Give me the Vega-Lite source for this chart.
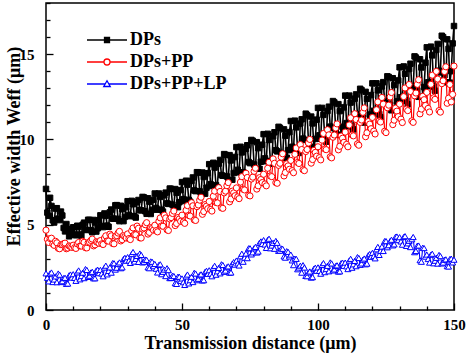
{
"$schema": "https://vega.github.io/schema/vega-lite/v6.json",
"width": 408, "height": 307,
"autosize": "none",
"padding": {"left": 46, "top": 3, "right": 15, "bottom": 43},
"background": "white",
"config": {"view": {"stroke": "black", "strokeWidth": 1.5}, "font": "Liberation Serif"},
"data": {"values": [
{"x":0,"DPs":7.10,"DPs+PP":4.68,"DPs+PP+LP":2.15},
{"x":0.5,"DPs":5.71,"DPs+PP":4.15,"DPs+PP+LP":1.89},
{"x":1,"DPs":5.52,"DPs+PP":3.96,"DPs+PP+LP":1.68},
{"x":1.5,"DPs":6.58,"DPs+PP":4.19,"DPs+PP+LP":2.14},
{"x":2,"DPs":6.10,"DPs+PP":4.21,"DPs+PP+LP":2.20},
{"x":2.5,"DPs":5.26,"DPs+PP":3.87,"DPs+PP+LP":1.64},
{"x":3,"DPs":5.13,"DPs+PP":3.79,"DPs+PP+LP":1.79},
{"x":3.5,"DPs":5.95,"DPs+PP":4.03,"DPs+PP+LP":1.97},
{"x":4,"DPs":5.97,"DPs+PP":3.94,"DPs+PP+LP":1.63},
{"x":4.5,"DPs":5.36,"DPs+PP":3.62,"DPs+PP+LP":2.14},
{"x":5,"DPs":5.27,"DPs+PP":3.59,"DPs+PP+LP":2.07},
{"x":5.5,"DPs":5.77,"DPs+PP":3.83,"DPs+PP+LP":1.64},
{"x":6,"DPs":5.54,"DPs+PP":3.83,"DPs+PP+LP":1.69},
{"x":6.5,"DPs":4.81,"DPs+PP":3.89,"DPs+PP+LP":1.87},
{"x":7,"DPs":4.61,"DPs+PP":3.92,"DPs+PP+LP":1.89},
{"x":7.5,"DPs":5.04,"DPs+PP":3.59,"DPs+PP+LP":1.53},
{"x":8,"DPs":4.74,"DPs+PP":3.63,"DPs+PP+LP":1.55},
{"x":8.5,"DPs":4.32,"DPs+PP":3.76,"DPs+PP+LP":2.03},
{"x":9,"DPs":4.42,"DPs+PP":3.72,"DPs+PP+LP":2.08},
{"x":9.5,"DPs":4.69,"DPs+PP":3.67,"DPs+PP+LP":1.90},
{"x":10,"DPs":4.85,"DPs+PP":3.80,"DPs+PP+LP":2.10},
{"x":10.5,"DPs":4.43,"DPs+PP":3.65,"DPs+PP+LP":1.88},
{"x":11,"DPs":4.38,"DPs+PP":3.61,"DPs+PP+LP":1.71},
{"x":11.5,"DPs":4.94,"DPs+PP":3.88,"DPs+PP+LP":2.21},
{"x":12,"DPs":4.86,"DPs+PP":3.96,"DPs+PP+LP":2.32},
{"x":12.5,"DPs":4.43,"DPs+PP":3.75,"DPs+PP+LP":1.80},
{"x":13,"DPs":4.36,"DPs+PP":3.75,"DPs+PP+LP":1.99},
{"x":13.5,"DPs":5.00,"DPs+PP":4.03,"DPs+PP+LP":2.19},
{"x":14,"DPs":5.12,"DPs+PP":3.97,"DPs+PP+LP":1.87},
{"x":14.5,"DPs":4.71,"DPs+PP":3.65,"DPs+PP+LP":2.40},
{"x":15,"DPs":4.69,"DPs+PP":3.64,"DPs+PP+LP":2.35},
{"x":15.5,"DPs":5.29,"DPs+PP":3.95,"DPs+PP+LP":1.94},
{"x":16,"DPs":5.28,"DPs+PP":3.98,"DPs+PP+LP":2.01},
{"x":16.5,"DPs":4.68,"DPs+PP":4.08,"DPs+PP+LP":2.20},
{"x":17,"DPs":4.56,"DPs+PP":4.16,"DPs+PP+LP":2.24},
{"x":17.5,"DPs":5.28,"DPs+PP":3.76,"DPs+PP+LP":1.86},
{"x":18,"DPs":5.13,"DPs+PP":3.82,"DPs+PP+LP":1.86},
{"x":18.5,"DPs":4.60,"DPs+PP":4.00,"DPs+PP+LP":2.32},
{"x":19,"DPs":4.79,"DPs+PP":3.96,"DPs+PP+LP":2.36},
{"x":19.5,"DPs":5.26,"DPs+PP":3.91,"DPs+PP+LP":2.16},
{"x":20,"DPs":5.55,"DPs+PP":4.07,"DPs+PP+LP":2.35},
{"x":20.5,"DPs":4.92,"DPs+PP":3.88,"DPs+PP+LP":2.14},
{"x":21,"DPs":4.86,"DPs+PP":3.84,"DPs+PP+LP":1.98},
{"x":21.5,"DPs":5.66,"DPs+PP":4.22,"DPs+PP+LP":2.49},
{"x":22,"DPs":5.52,"DPs+PP":4.35,"DPs+PP+LP":2.60},
{"x":22.5,"DPs":4.95,"DPs+PP":4.05,"DPs+PP+LP":2.09},
{"x":23,"DPs":4.88,"DPs+PP":4.04,"DPs+PP+LP":2.29},
{"x":23.5,"DPs":5.73,"DPs+PP":4.45,"DPs+PP+LP":2.50},
{"x":24,"DPs":5.89,"DPs+PP":4.35,"DPs+PP+LP":2.19},
{"x":24.5,"DPs":5.36,"DPs+PP":3.90,"DPs+PP+LP":2.75},
{"x":25,"DPs":5.35,"DPs+PP":3.88,"DPs+PP+LP":2.74},
{"x":25.5,"DPs":6.14,"DPs+PP":4.32,"DPs+PP+LP":2.37},
{"x":26,"DPs":6.15,"DPs+PP":4.36,"DPs+PP+LP":2.48},
{"x":26.5,"DPs":5.34,"DPs+PP":4.51,"DPs+PP+LP":2.71},
{"x":27,"DPs":5.21,"DPs+PP":4.61,"DPs+PP+LP":2.79},
{"x":27.5,"DPs":6.11,"DPs+PP":4.05,"DPs+PP+LP":2.45},
{"x":28,"DPs":5.91,"DPs+PP":4.12,"DPs+PP+LP":2.50},
{"x":28.5,"DPs":5.21,"DPs+PP":4.36,"DPs+PP+LP":2.99},
{"x":29,"DPs":5.46,"DPs+PP":4.30,"DPs+PP+LP":3.06},
{"x":29.5,"DPs":6.03,"DPs+PP":4.22,"DPs+PP+LP":2.89},
{"x":30,"DPs":6.38,"DPs+PP":4.46,"DPs+PP+LP":3.10},
{"x":30.5,"DPs":5.57,"DPs+PP":4.19,"DPs+PP+LP":2.90},
{"x":31,"DPs":5.50,"DPs+PP":4.13,"DPs+PP+LP":2.76},
{"x":31.5,"DPs":6.40,"DPs+PP":4.64,"DPs+PP+LP":3.28},
{"x":32,"DPs":6.20,"DPs+PP":4.81,"DPs+PP+LP":3.40},
{"x":32.5,"DPs":5.50,"DPs+PP":4.43,"DPs+PP+LP":2.84},
{"x":33,"DPs":5.42,"DPs+PP":4.41,"DPs+PP+LP":3.00},
{"x":33.5,"DPs":6.32,"DPs+PP":4.92,"DPs+PP+LP":3.17},
{"x":34,"DPs":6.45,"DPs+PP":4.79,"DPs+PP+LP":2.82},
{"x":34.5,"DPs":5.86,"DPs+PP":4.23,"DPs+PP+LP":3.31},
{"x":35,"DPs":5.84,"DPs+PP":4.22,"DPs+PP+LP":3.23},
{"x":35.5,"DPs":6.63,"DPs+PP":4.75,"DPs+PP+LP":2.79},
{"x":36,"DPs":6.60,"DPs+PP":4.81,"DPs+PP+LP":2.83},
{"x":36.5,"DPs":5.79,"DPs+PP":5.00,"DPs+PP+LP":2.96},
{"x":37,"DPs":5.64,"DPs+PP":5.12,"DPs+PP+LP":2.94},
{"x":37.5,"DPs":6.55,"DPs+PP":4.45,"DPs+PP+LP":2.50},
{"x":38,"DPs":6.35,"DPs+PP":4.55,"DPs+PP+LP":2.45},
{"x":38.5,"DPs":5.63,"DPs+PP":4.83,"DPs+PP+LP":2.85},
{"x":39,"DPs":5.87,"DPs+PP":4.78,"DPs+PP+LP":2.83},
{"x":39.5,"DPs":6.46,"DPs+PP":4.68,"DPs+PP+LP":2.57},
{"x":40,"DPs":6.83,"DPs+PP":4.97,"DPs+PP+LP":2.70},
{"x":40.5,"DPs":5.98,"DPs+PP":4.65,"DPs+PP+LP":2.42},
{"x":41,"DPs":5.88,"DPs+PP":4.58,"DPs+PP+LP":2.20},
{"x":41.5,"DPs":6.83,"DPs+PP":5.20,"DPs+PP+LP":2.64},
{"x":42,"DPs":6.63,"DPs+PP":5.40,"DPs+PP+LP":2.68},
{"x":42.5,"DPs":5.88,"DPs+PP":4.93,"DPs+PP+LP":2.10},
{"x":43,"DPs":5.77,"DPs+PP":4.91,"DPs+PP+LP":2.24},
{"x":43.5,"DPs":6.73,"DPs+PP":5.56,"DPs+PP+LP":2.37},
{"x":44,"DPs":6.88,"DPs+PP":5.40,"DPs+PP+LP":1.99},
{"x":44.5,"DPs":6.25,"DPs+PP":4.70,"DPs+PP+LP":2.45},
{"x":45,"DPs":6.22,"DPs+PP":4.66,"DPs+PP+LP":2.34},
{"x":45.5,"DPs":7.12,"DPs+PP":5.34,"DPs+PP+LP":1.87},
{"x":46,"DPs":7.10,"DPs+PP":5.42,"DPs+PP+LP":1.88},
{"x":46.5,"DPs":6.18,"DPs+PP":5.66,"DPs+PP+LP":2.01},
{"x":47,"DPs":6.02,"DPs+PP":5.80,"DPs+PP+LP":1.99},
{"x":47.5,"DPs":7.09,"DPs+PP":4.95,"DPs+PP+LP":1.57},
{"x":48,"DPs":6.87,"DPs+PP":5.07,"DPs+PP+LP":1.53},
{"x":48.5,"DPs":6.03,"DPs+PP":5.42,"DPs+PP+LP":1.95},
{"x":49,"DPs":6.32,"DPs+PP":5.34,"DPs+PP+LP":1.95},
{"x":49.5,"DPs":7.03,"DPs+PP":5.20,"DPs+PP+LP":1.71},
{"x":50,"DPs":7.50,"DPs+PP":5.56,"DPs+PP+LP":1.85},
{"x":50.5,"DPs":6.50,"DPs+PP":5.16,"DPs+PP+LP":1.63},
{"x":51,"DPs":6.39,"DPs+PP":5.08,"DPs+PP+LP":1.47},
{"x":51.5,"DPs":7.58,"DPs+PP":5.85,"DPs+PP+LP":1.97},
{"x":52,"DPs":7.35,"DPs+PP":6.12,"DPs+PP+LP":2.08},
{"x":52.5,"DPs":6.46,"DPs+PP":5.54,"DPs+PP+LP":1.56},
{"x":53,"DPs":6.35,"DPs+PP":5.51,"DPs+PP+LP":1.75},
{"x":53.5,"DPs":7.57,"DPs+PP":6.29,"DPs+PP+LP":1.95},
{"x":54,"DPs":7.77,"DPs+PP":6.11,"DPs+PP+LP":1.64},
{"x":54.5,"DPs":7.01,"DPs+PP":5.28,"DPs+PP+LP":2.18},
{"x":55,"DPs":6.97,"DPs+PP":5.25,"DPs+PP+LP":2.14},
{"x":55.5,"DPs":8.08,"DPs+PP":6.06,"DPs+PP+LP":1.75},
{"x":56,"DPs":8.06,"DPs+PP":6.16,"DPs+PP+LP":1.83},
{"x":56.5,"DPs":6.96,"DPs+PP":6.44,"DPs+PP+LP":2.04},
{"x":57,"DPs":6.76,"DPs+PP":6.61,"DPs+PP+LP":2.09},
{"x":57.5,"DPs":8.06,"DPs+PP":5.61,"DPs+PP+LP":1.73},
{"x":58,"DPs":7.80,"DPs+PP":5.77,"DPs+PP+LP":1.75},
{"x":58.5,"DPs":6.82,"DPs+PP":6.18,"DPs+PP+LP":2.24},
{"x":59,"DPs":7.17,"DPs+PP":6.09,"DPs+PP+LP":2.30},
{"x":59.5,"DPs":8.02,"DPs+PP":5.94,"DPs+PP+LP":2.12},
{"x":60,"DPs":8.55,"DPs+PP":6.36,"DPs+PP+LP":2.33},
{"x":60.5,"DPs":7.38,"DPs+PP":5.89,"DPs+PP+LP":2.13},
{"x":61,"DPs":7.27,"DPs+PP":5.80,"DPs+PP+LP":1.98},
{"x":61.5,"DPs":8.63,"DPs+PP":6.67,"DPs+PP+LP":2.48},
{"x":62,"DPs":8.35,"DPs+PP":6.97,"DPs+PP+LP":2.59},
{"x":62.5,"DPs":7.32,"DPs+PP":6.30,"DPs+PP+LP":2.07},
{"x":63,"DPs":7.19,"DPs+PP":6.28,"DPs+PP+LP":2.27},
{"x":63.5,"DPs":8.58,"DPs+PP":7.17,"DPs+PP+LP":2.47},
{"x":64,"DPs":8.80,"DPs+PP":6.95,"DPs+PP+LP":2.15},
{"x":64.5,"DPs":7.91,"DPs+PP":5.99,"DPs+PP+LP":2.68},
{"x":65,"DPs":7.87,"DPs+PP":5.96,"DPs+PP+LP":2.64},
{"x":65.5,"DPs":9.14,"DPs+PP":6.87,"DPs+PP+LP":2.24},
{"x":66,"DPs":9.10,"DPs+PP":6.97,"DPs+PP+LP":2.31},
{"x":66.5,"DPs":7.83,"DPs+PP":7.29,"DPs+PP+LP":2.51},
{"x":67,"DPs":7.61,"DPs+PP":7.47,"DPs+PP+LP":2.56},
{"x":67.5,"DPs":9.08,"DPs+PP":6.34,"DPs+PP+LP":2.19},
{"x":68,"DPs":8.77,"DPs+PP":6.51,"DPs+PP+LP":2.20},
{"x":68.5,"DPs":7.64,"DPs+PP":6.97,"DPs+PP+LP":2.72},
{"x":69,"DPs":8.03,"DPs+PP":6.87,"DPs+PP+LP":2.81},
{"x":69.5,"DPs":8.97,"DPs+PP":6.70,"DPs+PP+LP":2.66},
{"x":70,"DPs":9.55,"DPs+PP":7.16,"DPs+PP+LP":2.90},
{"x":70.5,"DPs":8.22,"DPs+PP":6.63,"DPs+PP+LP":2.73},
{"x":71,"DPs":8.07,"DPs+PP":6.53,"DPs+PP+LP":2.61},
{"x":71.5,"DPs":9.57,"DPs+PP":7.50,"DPs+PP+LP":3.15},
{"x":72,"DPs":9.24,"DPs+PP":7.82,"DPs+PP+LP":3.30},
{"x":72.5,"DPs":8.08,"DPs+PP":7.08,"DPs+PP+LP":2.83},
{"x":73,"DPs":7.92,"DPs+PP":7.04,"DPs+PP+LP":3.07},
{"x":73.5,"DPs":9.45,"DPs+PP":8.02,"DPs+PP+LP":3.31},
{"x":74,"DPs":9.66,"DPs+PP":7.77,"DPs+PP+LP":3.04},
{"x":74.5,"DPs":8.68,"DPs+PP":6.73,"DPs+PP+LP":3.62},
{"x":75,"DPs":8.61,"DPs+PP":6.69,"DPs+PP+LP":3.62},
{"x":75.5,"DPs":9.97,"DPs+PP":7.68,"DPs+PP+LP":3.26},
{"x":76,"DPs":9.92,"DPs+PP":7.79,"DPs+PP+LP":3.38},
{"x":76.5,"DPs":8.53,"DPs+PP":8.13,"DPs+PP+LP":3.62},
{"x":77,"DPs":8.28,"DPs+PP":8.31,"DPs+PP+LP":3.70},
{"x":77.5,"DPs":9.84,"DPs+PP":7.09,"DPs+PP+LP":3.37},
{"x":78,"DPs":9.49,"DPs+PP":7.28,"DPs+PP+LP":3.43},
{"x":78.5,"DPs":8.28,"DPs+PP":7.76,"DPs+PP+LP":3.94},
{"x":79,"DPs":8.69,"DPs+PP":7.65,"DPs+PP+LP":4.02},
{"x":79.5,"DPs":9.69,"DPs+PP":7.47,"DPs+PP+LP":3.87},
{"x":80,"DPs":10.31,"DPs+PP":7.96,"DPs+PP+LP":4.10},
{"x":80.5,"DPs":8.89,"DPs+PP":7.39,"DPs+PP+LP":3.84},
{"x":81,"DPs":8.72,"DPs+PP":7.28,"DPs+PP+LP":3.64},
{"x":81.5,"DPs":10.33,"DPs+PP":8.31,"DPs+PP+LP":4.11},
{"x":82,"DPs":9.97,"DPs+PP":8.66,"DPs+PP+LP":4.18},
{"x":82.5,"DPs":8.74,"DPs+PP":7.86,"DPs+PP+LP":3.62},
{"x":83,"DPs":8.57,"DPs+PP":7.82,"DPs+PP+LP":3.78},
{"x":83.5,"DPs":10.19,"DPs+PP":8.86,"DPs+PP+LP":3.94},
{"x":84,"DPs":10.42,"DPs+PP":8.60,"DPs+PP+LP":3.59},
{"x":84.5,"DPs":9.37,"DPs+PP":7.47,"DPs+PP+LP":4.05},
{"x":85,"DPs":9.30,"DPs+PP":7.43,"DPs+PP+LP":3.94},
{"x":85.5,"DPs":10.74,"DPs+PP":8.48,"DPs+PP+LP":3.47},
{"x":86,"DPs":10.68,"DPs+PP":8.60,"DPs+PP+LP":3.48},
{"x":86.5,"DPs":9.20,"DPs+PP":8.96,"DPs+PP+LP":3.61},
{"x":87,"DPs":8.93,"DPs+PP":9.16,"DPs+PP+LP":3.59},
{"x":87.5,"DPs":10.59,"DPs+PP":7.86,"DPs+PP+LP":3.14},
{"x":88,"DPs":10.22,"DPs+PP":8.06,"DPs+PP+LP":3.07},
{"x":88.5,"DPs":8.93,"DPs+PP":8.57,"DPs+PP+LP":3.45},
{"x":89,"DPs":9.37,"DPs+PP":8.45,"DPs+PP+LP":3.41},
{"x":89.5,"DPs":10.43,"DPs+PP":8.25,"DPs+PP+LP":3.14},
{"x":90,"DPs":11.08,"DPs+PP":8.77,"DPs+PP+LP":3.25},
{"x":90.5,"DPs":9.57,"DPs+PP":8.17,"DPs+PP+LP":2.91},
{"x":91,"DPs":9.39,"DPs+PP":8.05,"DPs+PP+LP":2.63},
{"x":91.5,"DPs":11.10,"DPs+PP":9.13,"DPs+PP+LP":3.01},
{"x":92,"DPs":10.71,"DPs+PP":9.50,"DPs+PP+LP":3.00},
{"x":92.5,"DPs":9.40,"DPs+PP":8.65,"DPs+PP+LP":2.39},
{"x":93,"DPs":9.21,"DPs+PP":8.59,"DPs+PP+LP":2.49},
{"x":93.5,"DPs":10.93,"DPs+PP":9.70,"DPs+PP+LP":2.60},
{"x":94,"DPs":11.18,"DPs+PP":9.41,"DPs+PP+LP":2.19},
{"x":94.5,"DPs":10.05,"DPs+PP":8.22,"DPs+PP+LP":2.63},
{"x":95,"DPs":9.97,"DPs+PP":8.17,"DPs+PP+LP":2.49},
{"x":95.5,"DPs":11.51,"DPs+PP":9.29,"DPs+PP+LP":2.00},
{"x":96,"DPs":11.43,"DPs+PP":9.41,"DPs+PP+LP":1.98},
{"x":96.5,"DPs":9.87,"DPs+PP":9.79,"DPs+PP+LP":2.20},
{"x":97,"DPs":9.57,"DPs+PP":10.00,"DPs+PP+LP":2.26},
{"x":97.5,"DPs":11.34,"DPs+PP":8.61,"DPs+PP+LP":1.90},
{"x":98,"DPs":10.94,"DPs+PP":8.82,"DPs+PP+LP":1.93},
{"x":98.5,"DPs":9.56,"DPs+PP":9.36,"DPs+PP+LP":2.42},
{"x":99,"DPs":10.03,"DPs+PP":9.24,"DPs+PP+LP":2.48},
{"x":99.5,"DPs":11.16,"DPs+PP":9.02,"DPs+PP+LP":2.30},
{"x":100,"DPs":11.85,"DPs+PP":9.57,"DPs+PP+LP":2.50},
{"x":100.5,"DPs":10.24,"DPs+PP":8.93,"DPs+PP+LP":2.29},
{"x":101,"DPs":10.05,"DPs+PP":8.80,"DPs+PP+LP":2.13},
{"x":101.5,"DPs":11.85,"DPs+PP":9.96,"DPs+PP+LP":2.64},
{"x":102,"DPs":11.44,"DPs+PP":10.35,"DPs+PP+LP":2.75},
{"x":102.5,"DPs":10.05,"DPs+PP":9.44,"DPs+PP+LP":2.22},
{"x":103,"DPs":9.87,"DPs+PP":9.40,"DPs+PP+LP":2.40},
{"x":103.5,"DPs":11.67,"DPs+PP":10.57,"DPs+PP+LP":2.59},
{"x":104,"DPs":11.92,"DPs+PP":10.27,"DPs+PP+LP":2.27},
{"x":104.5,"DPs":10.75,"DPs+PP":8.98,"DPs+PP+LP":2.79},
{"x":105,"DPs":10.67,"DPs+PP":8.92,"DPs+PP+LP":2.73},
{"x":105.5,"DPs":12.25,"DPs+PP":10.13,"DPs+PP+LP":2.32},
{"x":106,"DPs":12.17,"DPs+PP":10.26,"DPs+PP+LP":2.38},
{"x":106.5,"DPs":10.56,"DPs+PP":10.67,"DPs+PP+LP":2.58},
{"x":107,"DPs":10.27,"DPs+PP":10.91,"DPs+PP+LP":2.62},
{"x":107.5,"DPs":12.07,"DPs+PP":9.39,"DPs+PP+LP":2.25},
{"x":108,"DPs":11.66,"DPs+PP":9.60,"DPs+PP+LP":2.27},
{"x":108.5,"DPs":10.27,"DPs+PP":10.20,"DPs+PP+LP":2.74},
{"x":109,"DPs":10.74,"DPs+PP":10.07,"DPs+PP+LP":2.78},
{"x":109.5,"DPs":11.88,"DPs+PP":9.83,"DPs+PP+LP":2.59},
{"x":110,"DPs":12.57,"DPs+PP":10.43,"DPs+PP+LP":2.78},
{"x":110.5,"DPs":10.96,"DPs+PP":9.71,"DPs+PP+LP":2.56},
{"x":111,"DPs":10.77,"DPs+PP":9.57,"DPs+PP+LP":2.40},
{"x":111.5,"DPs":12.57,"DPs+PP":10.85,"DPs+PP+LP":2.90},
{"x":112,"DPs":12.16,"DPs+PP":11.27,"DPs+PP+LP":3.00},
{"x":112.5,"DPs":10.77,"DPs+PP":10.26,"DPs+PP+LP":2.48},
{"x":113,"DPs":10.59,"DPs+PP":10.21,"DPs+PP+LP":2.68},
{"x":113.5,"DPs":12.39,"DPs+PP":11.51,"DPs+PP+LP":2.88},
{"x":114,"DPs":12.64,"DPs+PP":11.17,"DPs+PP+LP":2.57},
{"x":114.5,"DPs":11.47,"DPs+PP":9.74,"DPs+PP+LP":3.10},
{"x":115,"DPs":11.39,"DPs+PP":9.66,"DPs+PP+LP":3.05},
{"x":115.5,"DPs":12.97,"DPs+PP":11.00,"DPs+PP+LP":2.65},
{"x":116,"DPs":12.89,"DPs+PP":11.14,"DPs+PP+LP":2.73},
{"x":116.5,"DPs":11.28,"DPs+PP":11.59,"DPs+PP+LP":2.95},
{"x":117,"DPs":10.99,"DPs+PP":11.85,"DPs+PP+LP":3.02},
{"x":117.5,"DPs":12.79,"DPs+PP":10.16,"DPs+PP+LP":2.68},
{"x":118,"DPs":12.38,"DPs+PP":10.39,"DPs+PP+LP":2.72},
{"x":118.5,"DPs":10.99,"DPs+PP":11.05,"DPs+PP+LP":3.21},
{"x":119,"DPs":11.46,"DPs+PP":10.90,"DPs+PP+LP":3.28},
{"x":119.5,"DPs":12.60,"DPs+PP":10.63,"DPs+PP+LP":3.12},
{"x":120,"DPs":13.29,"DPs+PP":11.29,"DPs+PP+LP":3.35},
{"x":120.5,"DPs":11.68,"DPs+PP":10.49,"DPs+PP+LP":3.16},
{"x":121,"DPs":11.49,"DPs+PP":10.32,"DPs+PP+LP":3.03},
{"x":121.5,"DPs":13.29,"DPs+PP":11.74,"DPs+PP+LP":3.56},
{"x":122,"DPs":12.88,"DPs+PP":12.20,"DPs+PP+LP":3.70},
{"x":122.5,"DPs":11.49,"DPs+PP":11.08,"DPs+PP+LP":3.23},
{"x":123,"DPs":11.31,"DPs+PP":11.02,"DPs+PP+LP":3.47},
{"x":123.5,"DPs":13.11,"DPs+PP":12.46,"DPs+PP+LP":3.72},
{"x":124,"DPs":13.36,"DPs+PP":12.07,"DPs+PP+LP":3.46},
{"x":124.5,"DPs":12.19,"DPs+PP":10.48,"DPs+PP+LP":4.04},
{"x":125,"DPs":12.11,"DPs+PP":10.40,"DPs+PP+LP":4.04},
{"x":125.5,"DPs":13.70,"DPs+PP":11.86,"DPs+PP+LP":3.68},
{"x":126,"DPs":13.66,"DPs+PP":12.01,"DPs+PP+LP":3.80},
{"x":126.5,"DPs":12.03,"DPs+PP":12.49,"DPs+PP+LP":4.04},
{"x":127,"DPs":11.71,"DPs+PP":12.75,"DPs+PP+LP":4.12},
{"x":127.5,"DPs":13.59,"DPs+PP":10.87,"DPs+PP+LP":3.79},
{"x":128,"DPs":13.19,"DPs+PP":11.13,"DPs+PP+LP":3.85},
{"x":128.5,"DPs":11.73,"DPs+PP":11.84,"DPs+PP+LP":4.29},
{"x":129,"DPs":12.23,"DPs+PP":11.66,"DPs+PP+LP":4.31},
{"x":129.5,"DPs":13.46,"DPs+PP":11.34,"DPs+PP+LP":4.10},
{"x":130,"DPs":14.23,"DPs+PP":12.07,"DPs+PP+LP":4.27},
{"x":130.5,"DPs":12.48,"DPs+PP":11.19,"DPs+PP+LP":4.02},
{"x":131,"DPs":12.28,"DPs+PP":10.99,"DPs+PP+LP":3.83},
{"x":131.5,"DPs":14.28,"DPs+PP":12.51,"DPs+PP+LP":4.28},
{"x":132,"DPs":13.85,"DPs+PP":13.02,"DPs+PP+LP":4.33},
{"x":132.5,"DPs":12.29,"DPs+PP":11.78,"DPs+PP+LP":3.76},
{"x":133,"DPs":12.06,"DPs+PP":11.69,"DPs+PP+LP":3.91},
{"x":133.5,"DPs":14.13,"DPs+PP":13.22,"DPs+PP+LP":4.06},
{"x":134,"DPs":14.44,"DPs+PP":12.81,"DPs+PP+LP":3.69},
{"x":134.5,"DPs":13.09,"DPs+PP":11.09,"DPs+PP+LP":4.15},
{"x":135,"DPs":13.00,"DPs+PP":11.00,"DPs+PP+LP":4.28},
{"x":135.5,"DPs":14.87,"DPs+PP":12.56,"DPs+PP+LP":3.39},
{"x":136,"DPs":14.80,"DPs+PP":12.72,"DPs+PP+LP":3.46},
{"x":136.5,"DPs":12.87,"DPs+PP":13.23,"DPs+PP+LP":3.77},
{"x":137,"DPs":12.50,"DPs+PP":13.50,"DPs+PP+LP":3.78},
{"x":137.5,"DPs":14.70,"DPs+PP":11.50,"DPs+PP+LP":2.92},
{"x":138,"DPs":14.22,"DPs+PP":11.78,"DPs+PP+LP":2.83},
{"x":138.5,"DPs":12.50,"DPs+PP":12.53,"DPs+PP+LP":3.65},
{"x":139,"DPs":13.07,"DPs+PP":12.33,"DPs+PP+LP":3.63},
{"x":139.5,"DPs":14.50,"DPs+PP":11.99,"DPs+PP+LP":3.13},
{"x":140,"DPs":15.40,"DPs+PP":12.76,"DPs+PP+LP":3.25},
{"x":140.5,"DPs":13.35,"DPs+PP":11.82,"DPs+PP+LP":2.99},
{"x":141,"DPs":13.12,"DPs+PP":11.61,"DPs+PP+LP":2.78},
{"x":141.5,"DPs":15.44,"DPs+PP":13.23,"DPs+PP+LP":3.24},
{"x":142,"DPs":14.93,"DPs+PP":13.77,"DPs+PP+LP":3.30},
{"x":142.5,"DPs":13.11,"DPs+PP":12.44,"DPs+PP+LP":2.74},
{"x":143,"DPs":12.86,"DPs+PP":12.35,"DPs+PP+LP":2.89},
{"x":143.5,"DPs":15.25,"DPs+PP":13.99,"DPs+PP+LP":3.06},
{"x":144,"DPs":15.60,"DPs+PP":13.54,"DPs+PP+LP":2.72},
{"x":144.5,"DPs":14.03,"DPs+PP":11.69,"DPs+PP+LP":3.23},
{"x":145,"DPs":13.93,"DPs+PP":11.60,"DPs+PP+LP":3.16},
{"x":145.5,"DPs":16.08,"DPs+PP":13.27,"DPs+PP+LP":2.73},
{"x":146,"DPs":16.00,"DPs+PP":13.44,"DPs+PP+LP":2.78},
{"x":146.5,"DPs":13.77,"DPs+PP":13.98,"DPs+PP+LP":2.95},
{"x":147,"DPs":13.35,"DPs+PP":14.26,"DPs+PP+LP":2.97},
{"x":147.5,"DPs":15.87,"DPs+PP":12.12,"DPs+PP+LP":2.57},
{"x":148,"DPs":15.31,"DPs+PP":12.42,"DPs+PP+LP":2.55},
{"x":148.5,"DPs":13.33,"DPs+PP":13.22,"DPs+PP+LP":2.99},
{"x":149,"DPs":14.00,"DPs+PP":12.20,"DPs+PP+LP":3.01},
{"x":149.5,"DPs":15.63,"DPs+PP":12.64,"DPs+PP+LP":2.79},
{"x":150,"DPs":16.65,"DPs+PP":14.30,"DPs+PP+LP":2.95}
]},
"transform": [{"fold": ["DPs", "DPs+PP", "DPs+PP+LP"], "as": ["series", "w"]}],
"encoding": {
  "x": {"field": "x", "type": "quantitative",
        "scale": {"domain": [0, 150], "nice": false, "zero": false},
        "axis": {"title": "Transmission distance (μm)",
                 "values": [0,10,20,30,40,50,60,70,80,90,100,110,120,130,140,150],
                 "labelExpr": "datum.value % 50 === 0 ? datum.label : ''",
                 "tickSize": {"condition": {"test": "datum.value % 50 === 0", "value": -7}, "value": -4},
                 "tickColor": "black", "tickWidth": 1.3, "domain": false, "grid": false,
                 "labelFont": "Liberation Serif", "labelFontSize": 15, "labelFontWeight": "bold", "labelColor": "black",
                 "labelPadding": 14, "labelFlush": false, "labelOverlap": false,
                 "titleFont": "Liberation Serif", "titleFontSize": 18, "titleFontWeight": "bold", "titleColor": "black", "titlePadding": -1}},
  "y": {"field": "w", "type": "quantitative",
        "scale": {"domain": [0, 18], "nice": false},
        "axis": {"title": "Effective width Weff (μm)",
                 "values": [0,1,2,3,4,5,6,7,8,9,10,11,12,13,14,15,16,17,18],
                 "labelExpr": "datum.value % 5 === 0 ? datum.label : ''",
                 "tickSize": {"condition": {"test": "datum.value % 5 === 0", "value": -7}, "value": -4},
                 "tickColor": "black", "tickWidth": 1.3, "domain": false, "grid": false,
                 "labelFont": "Liberation Serif", "labelFontSize": 15, "labelFontWeight": "bold", "labelColor": "black",
                 "labelPadding": 19, "labelFlush": false, "labelOverlap": false,
                 "titleFont": "Liberation Serif", "titleFontSize": 18, "titleFontWeight": "bold", "titleColor": "black",
                 "titlePadding": -4, "titleY": 143}}
},
"layer": [
  {"transform": [{"filter": "datum.series === 'DPs'"}],
   "layer": [
     {"mark": {"type": "line", "strokeWidth": 1.6},
      "encoding": {"color": {"field": "series", "type": "nominal",
         "scale": {"domain": ["DPs", "DPs+PP", "DPs+PP+LP"], "range": ["#000000", "#ff0000", "#0000ff"]},
         "legend": {"title": null, "orient": "none", "legendX": 52, "legendY": 28, "padding": 0,
                    "symbolSize": 100, "symbolStrokeWidth": 1.3, "labelOffset": 14, "rowPadding": 4,
                    "labelFont": "Liberation Serif", "labelFontSize": 18, "labelFontWeight": "bold", "labelColor": "black",
                    "encode": {"symbols": {"update": {
                       "shape": {"signal": "datum.value === 'DPs' ? 'M-4,0H4M-0.5,-0.5H0.5V0.5H-0.5Z' : datum.value === 'DPs+PP' ? 'M-4,0H-0.6M0.6,0H4M0.6,0A0.6,0.6,0,1,1,-0.6,0A0.6,0.6,0,1,1,0.6,0Z' : 'M-4,0H-0.37M0.37,0H4M0,-0.65L0.65,0.5H-0.65Z'"},
                       "fill": {"signal": "datum.value === 'DPs' ? 'black' : 'white'"},
                       "opacity": {"value": 1}}}}}}}},
     {"mark": {"type": "point", "shape": "square", "filled": true, "fill": "black", "stroke": "black", "strokeWidth": 1, "size": 30, "opacity": 1}}
   ]},
  {"transform": [{"filter": "datum.series === 'DPs+PP'"}],
   "layer": [
     {"mark": {"type": "line", "strokeWidth": 1.2},
      "encoding": {"color": {"field": "series", "type": "nominal",
         "scale": {"domain": ["DPs", "DPs+PP", "DPs+PP+LP"], "range": ["#000000", "#ff0000", "#0000ff"]}}}},
     {"mark": {"type": "point", "shape": "circle", "filled": true, "fill": "white", "stroke": "#ff0000", "strokeWidth": 1, "size": 38, "opacity": 1}}
   ]},
  {"transform": [{"filter": "datum.series === 'DPs+PP+LP'"}],
   "layer": [
     {"mark": {"type": "line", "strokeWidth": 1.1},
      "encoding": {"color": {"field": "series", "type": "nominal",
         "scale": {"domain": ["DPs", "DPs+PP", "DPs+PP+LP"], "range": ["#000000", "#ff0000", "#0000ff"]}}}},
     {"mark": {"type": "point", "shape": "triangle-up", "filled": true, "fill": "white", "stroke": "#0000ff", "strokeWidth": 1, "size": 36, "opacity": 1}}
   ]}
]
}
